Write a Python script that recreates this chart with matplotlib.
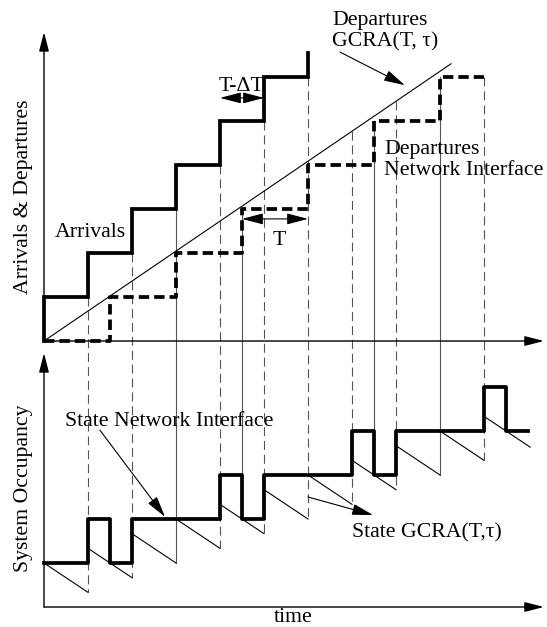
import matplotlib.pyplot as plt
import numpy as np

plt.rcParams['font.family'] = ['Liberation Serif', 'DejaVu Serif']
plt.rcParams['lines.scale_dashes'] = False

# time in units of the arrival spacing (T - dT), levels in cells
T = 1.5
arrival_t = [0, 1, 2, 3, 4, 5, 6, 7, 8, 9, 10]
depart_t = [1.5, 3, 4.5, 6, 7.5, 9, 10.5]
# GCRA bucket state right after each arrival
gcra_after = [1, 4/3, 5/3, 2, 7/3, 8/3, 3, 10/3, 11/3, 4, 13/3]
gcra_end_t = 11.05
# ideal GCRA departure line (upper panel)
gcra_line_t = [0, 9.25]
gcra_line_y = [0, 6.3]
# vertical guide lines: time, top (upper panel level), bottom (lower panel level)
guide_t = [1, 2, 3, 4, 4.5, 5, 6, 7, 7.5, 8, 9, 10]
guide_top = [1, 2, 3, 4, 3, 5, 6, 4.77, 5, 5.45, 6, 6]
guide_bot = [1/3, 2/3, 1, 4/3, 2, 5/3, 2, 7/3, 3, 8/3, 3, 10/3]
guide_solid = [False, False, True, False, True, False, False, False, True, False, True, False]

TOP = 6.045          # offset of the upper panel baseline
FS = 15.7
GUIDE = '#555555'

fig = plt.figure(figsize=(5.47, 6.27), dpi=100)
ax = fig.add_axes([0, 0, 1, 1])
ax.set_xlim(-1, 11.432)
ax.set_ylim(-0.4545, 13.795)
ax.axis('off')

# guide lines
for t, top, bot, solid in zip(guide_t, guide_top, guide_bot, guide_solid):
    if solid:
        ax.plot([t, t], [TOP + top, bot], color=GUIDE, lw=0.8, zorder=1)
    else:
        ax.plot([t, t], [TOP + top, bot], color=GUIDE, lw=0.8, dashes=(6.5, 3.5), zorder=1)

# axes with arrows
axis_arrow = dict(arrowstyle='-|>,head_length=0.58,head_width=0.15', mutation_scale=20,
                  lw=1.0, color='k', shrinkA=0, shrinkB=0)
ax.annotate('', xy=(0, TOP + 7.02), xytext=(0, TOP), arrowprops=axis_arrow)
ax.annotate('', xy=(11.36, TOP), xytext=(0, TOP), arrowprops=axis_arrow)
ax.annotate('', xy=(0, 5.77), xytext=(0, 0), arrowprops=axis_arrow)
ax.annotate('', xy=(11.36, 0), xytext=(0, 0), arrowprops=axis_arrow)

# arrivals staircase
arr_x, arr_y = [], []
for n, t in enumerate(arrival_t[:7]):
    arr_x += [t, t]
    arr_y += [n, n + 1]
    if n < 6:
        arr_x.append(arrival_t[n + 1])
        arr_y.append(n + 1)
arr_y[-1] = 6.55
ax.plot(arr_x, TOP + np.array(arr_y), color='k', lw=2.7, solid_joinstyle='miter', zorder=3)

# departures network interface staircase
dep_x, dep_y = [0], [0]
for n, t in enumerate(depart_t[:6], start=1):
    dep_x += [t, t]
    dep_y += [n - 1, n]
dep_x.append(10)
dep_y.append(dep_y[-1])
ax.plot(dep_x, TOP + np.array(dep_y), color='k', lw=2.7, dashes=(7.5, 3.6), zorder=3)

# GCRA departure line
ax.plot(gcra_line_t, TOP + np.array(gcra_line_y), color='k', lw=0.8, zorder=2)

# occupancy of the network interface
breaks = sorted(set(arrival_t + depart_t))
occ = [sum(a <= b for a in arrival_t) - sum(d <= b for d in depart_t) for b in breaks]
ax.step(breaks + [11], occ + [occ[-1]], where='post', color='k', lw=2.7, zorder=3)

# GCRA state sawtooth
for k, t in enumerate(arrival_t):
    t1 = arrival_t[k + 1] if k + 1 < len(arrival_t) else gcra_end_t
    ax.plot([t, t1], [gcra_after[k], gcra_after[k] - (t1 - t) / T], color='k', lw=0.8, zorder=2)

# labels
ax.text(-0.477, 9.32, 'Arrivals & Departures', rotation=90, ha='center', va='center', fontsize=FS)
ax.text(-0.477, 2.70, 'System Occupancy', rotation=90, ha='center', va='center', fontsize=FS)
ax.text(5.66, -0.34, 'time', ha='center', va='baseline', fontsize=FS)

ax.text(0.25, 8.41, 'Arrivals', ha='left', va='baseline', fontsize=FS)
ax.text(4.48, 11.73, 'T-ΔT', ha='center', va='baseline', fontsize=FS)
ax.text(5.34, 8.23, 'T', ha='center', va='baseline', fontsize=FS)
ax.text(6.545, 13.23, 'Departures', ha='left', va='baseline', fontsize=FS)
ax.text(6.545, 12.73, 'GCRA(T, τ)', ha='left', va='baseline', fontsize=FS)
ax.text(7.73, 10.30, 'Departures', ha='left', va='baseline', fontsize=FS)
ax.text(7.73, 9.82, 'Network Interface', ha='left', va='baseline', fontsize=FS)
ax.text(0.48, 4.11, 'State Network Interface', ha='left', va='baseline', fontsize=FS)
ax.text(7.0, 1.59, 'State GCRA(T,τ)', ha='left', va='baseline', fontsize=FS)

dim = dict(arrowstyle='<|-|>,head_length=0.65,head_width=0.17', mutation_scale=20,
           lw=0.8, color='k', shrinkA=0, shrinkB=0)
ax.annotate('', xy=(5, 11.57), xytext=(4, 11.57), arrowprops=dim)
ax.annotate('', xy=(6, 8.82), xytext=(4.5, 8.82), arrowprops=dim)

ptr = dict(arrowstyle='-|>,head_length=0.65,head_width=0.17', mutation_scale=20,
           lw=0.8, color='k', shrinkA=0, shrinkB=0)
ax.annotate('', xy=(8.2, 11.86), xytext=(6.73, 12.61), arrowprops=ptr)
ax.annotate('', xy=(2.75, 2.05), xytext=(1.27, 4.02), arrowprops=ptr)
ax.annotate('', xy=(7.48, 2.09), xytext=(6.0, 2.5), arrowprops=ptr)

fig.savefig('out.png', dpi=100)
